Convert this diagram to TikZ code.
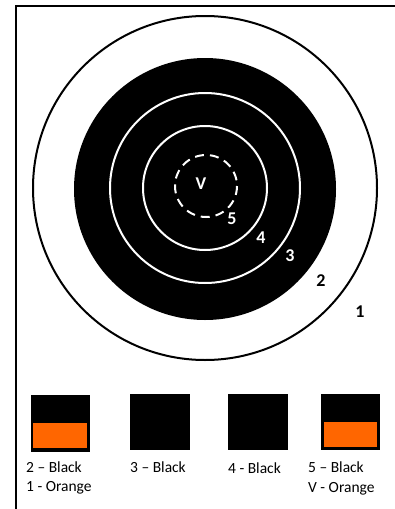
\documentclass[tikz,border=0pt]{standalone}
\usepackage{fontspec}
\setmainfont{Carlito}
\definecolor{tgtorange}{HTML}{FF6600}
\begin{document}
\begin{tikzpicture}[x=1pt, y=-1pt,
  every node/.style={font=\fontsize{15.5}{19}\selectfont, inner sep=0pt},
  ringlbl/.style={font=\fontsize{18}{20}\selectfont\bfseries},
  swatch/.style={fill=black, draw=black, line width=1pt},
  legtxt/.style={anchor=base west}]
  \useasboundingbox (0,0) rectangle (395,509);

  % Frame (left and top edges)
  \draw[line width=2.2pt] (16,509) -- (16,6) -- (395,6);

  % Target rings
  \draw[line width=2pt, fill=white] (205,188) circle (172);
  \fill[black] (205,189) circle (131);
  \draw[white, line width=2pt] (205,188) circle (95);
  \draw[white, line width=2pt] (205,188) circle (62);
  \draw[white, line width=2pt, dash pattern=on 9pt off 6pt] (206,186) circle (31);

  % Ring scores
  \node[ringlbl, white] (lblV) at (201,184) {V};
  \node[ringlbl, white] (lbl5) at (232,219) {5};
  \node[ringlbl, white] (lbl4) at (261,238) {4};
  \node[ringlbl, white] (lbl3) at (290,256) {3};
  \node[ringlbl] (lbl2) at (321,281) {2};
  \node[ringlbl] (lbl1) at (360,312) {1};

  % Colour key swatches
  \draw[swatch] (31,395) rectangle (89,451);
  \fill[tgtorange] (33,423) rectangle (87,448);
  \draw[swatch] (130,394) rectangle (189,449);
  \draw[swatch] (228,394) rectangle (287,449);
  \draw[swatch] (321,394) rectangle (379,449);
  \fill[tgtorange] (324,422) rectangle (377,447);

  % Colour key texts
  \node[legtxt] (key2) at (26,472) {2 -- Black};
  \node[legtxt] (key1) at (26,491) {1 - Orange};
  \node[legtxt] (key3) at (130,472) {3 -- Black};
  \node[legtxt] (key4) at (228,473) {4 - Black};
  \node[legtxt] (key5) at (308,472) {5 -- Black};
  \node[legtxt] (keyV) at (308,492) {V - Orange};
\end{tikzpicture}
\end{document}
